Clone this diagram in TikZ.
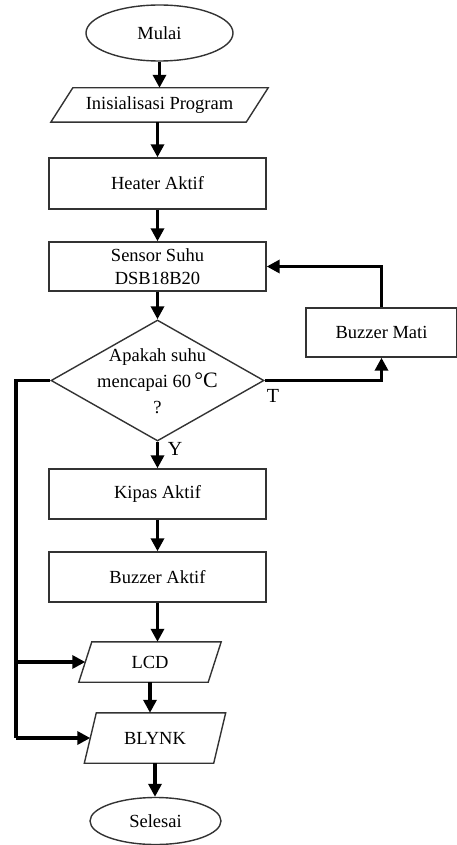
\documentclass[tikz,border=0pt]{standalone}
\usepackage{fontspec}
\setmainfont{Liberation Serif}
\usetikzlibrary{shapes.geometric,arrows.meta}
\begin{document}
\begin{tikzpicture}[x=1pt,y=-1pt,
  outl/.style={draw=black!80, line width=1.4pt},
  txt/.style={font=\fontsize{18.5}{23}\selectfont, align=center, inner sep=0pt},
  procbox/.style={outl, txt, rectangle, minimum width=217pt, minimum height=50pt},
  term/.style={outl, txt, ellipse},
  iobox/.style={txt, rectangle, draw=none},
  arr/.style={line width=3.5pt, -{Triangle[length=13pt,width=13pt]}},
  ln/.style={line width=3.2pt},
  lbl/.style={font=\fontsize{20}{24}\selectfont, inner sep=0pt}
]
\useasboundingbox (0,0) rectangle (457,845);

\node[term, minimum width=147pt, minimum height=56pt] (mulai) at (159.5,33) {Mulai};
\node[iobox, minimum width=195pt, minimum height=34pt] (init) at (159.5,105) {Inisialisasi Program};
\node[procbox, minimum height=51pt] (heater) at (157.5,183.5) {Heater Aktif};
\node[procbox, minimum height=49pt] (sensor) at (157.5,266.5) {Sensor Suhu\\DSB18B20};
\node[outl, diamond, minimum width=213pt, minimum height=121pt, inner sep=0pt] (dec) at (157.5,380.5) {};
\node[txt, font=\fontsize{18.5}{26}\selectfont] (dect) at (157.5,381) {Apakah suhu\\mencapai 60\,{\fontsize{22}{26}\selectfont °C}\\?};
\node[procbox] (kipas) at (157.5,494) {Kipas Aktif};
\node[procbox] (bakt) at (157.5,577) {Buzzer Aktif};
\node[iobox, minimum width=129pt, minimum height=40pt] (lcd) at (150,662) {LCD};
\node[iobox, minimum width=129pt, minimum height=50pt] (blynk) at (155,738) {BLYNK};
\node[term, minimum width=131pt, minimum height=47pt] (selesai) at (155.5,821) {Selesai};
\node[procbox, minimum width=151pt, minimum height=49pt] (bmati) at (381.5,332.5) {Buzzer Mati};

\draw[outl] ([xshift=11pt]init.north west) -- ([xshift=11pt]init.north east) -- ([xshift=-11pt]init.south east) -- ([xshift=-11pt]init.south west) -- cycle;
\draw[outl] ([xshift=6.5pt]lcd.north west) -- ([xshift=6.5pt]lcd.north east) -- ([xshift=-6.5pt]lcd.south east) -- ([xshift=-6.5pt]lcd.south west) -- cycle;
\draw[outl] ([xshift=6pt]blynk.north west) -- ([xshift=6pt]blynk.north east) -- ([xshift=-6pt]blynk.south east) -- ([xshift=-6pt]blynk.south west) -- cycle;

\draw[arr] (mulai.south) -- (init.north);
\draw[arr] (heater.north |- init.south) -- (heater.north);
\draw[arr] (heater.south) -- (sensor.north);
\draw[arr] (sensor.south) -- (dec.north);
\draw[arr] (dec.south) -- (kipas.north);
\draw[arr] (kipas.south) -- (bakt.north);
\draw[arr] (bakt.south) -- (bakt.south |- lcd.north);
\draw[arr] (lcd.south) -- (lcd.south |- blynk.north);
\draw[arr] (blynk.south) -- (blynk.south |- selesai.north);

\draw[arr] (dec.east) -| (bmati.south);
\draw[arr] (bmati.north) |- (sensor.east);

\coordinate (ltop) at (16,380.5);
\coordinate (lbot) at (16,738);
\draw[ln, line join=miter] (dec.west) -- (ltop) -- (lbot);
\draw[arr] (ltop |- lcd.west) -- (lcd.west);
\draw[arr] (lbot) -- (blynk.west);

\node[lbl] (tlab) at (273,396) {T};
\node[lbl] (ylab) at (175,449) {Y};
\end{tikzpicture}
\end{document}
